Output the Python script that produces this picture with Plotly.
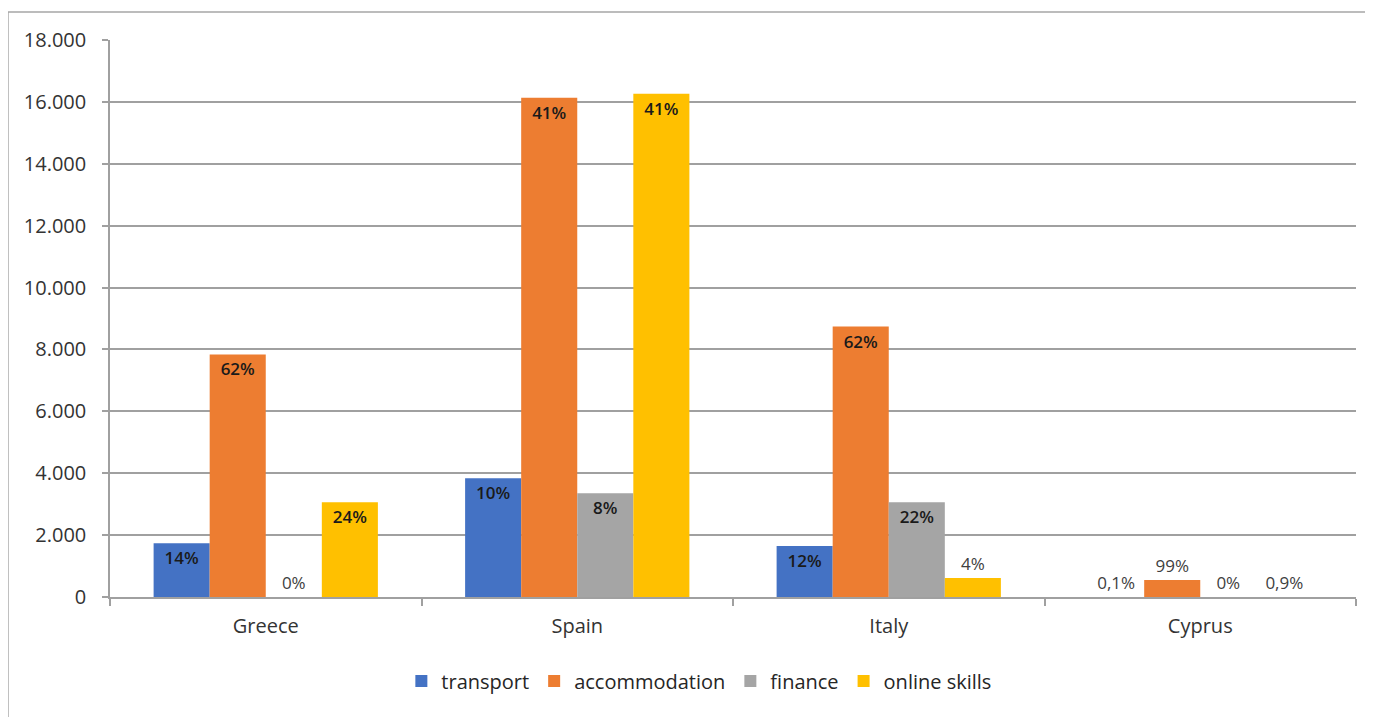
import plotly.graph_objects as go

countries = ["Greece", "Spain", "Italy", "Cyprus"]
series = ["transport", "accommodation", "finance", "online skills"]
colors = ["#4472C4", "#ED7D31", "#A5A5A5", "#FFC000"]

transport = [1740, 3840, 1650, 0]
accommodation = [7840, 16130, 8740, 550]
finance = [0, 3350, 3060, 0]
online_skills = [3060, 16260, 610, 0]

pct_transport = ["14%", "10%", "12%", "0,1%"]
pct_accommodation = ["62%", "41%", "62%", "99%"]
pct_finance = ["0%", "8%", "22%", "0%"]
pct_online = ["24%", "41%", "4%", "0,9%"]

pos_transport = ["inside", "inside", "inside", "outside"]
pos_accommodation = ["inside", "inside", "inside", "outside"]
pos_finance = ["outside", "inside", "inside", "outside"]
pos_online = ["inside", "inside", "outside", "outside"]

values = [transport, accommodation, finance, online_skills]
labels = [pct_transport, pct_accommodation, pct_finance, pct_online]
positions = [pos_transport, pos_accommodation, pos_finance, pos_online]

FONT = "Open Sans"

fig = go.Figure()
for name, col, v, t, p in zip(series, colors, values, labels, positions):
    fig.add_trace(go.Bar(
        name=name, x=countries, y=v, marker=dict(color=col, line=dict(width=0)),
        text=t, textposition=p, insidetextanchor="end",
        textfont=dict(family=FONT, size=17, color="#262626"),
        outsidetextfont=dict(family=FONT, size=17, color="#404040"),
        insidetextfont=dict(family=FONT, size=17, color="#1a1a1a", weight=600),
        cliponaxis=False, hoverinfo="x+y+name",
    ))

fig.update_layout(
    width=1365, height=709,
    margin=dict(l=102, r=17, t=32, b=120),
    paper_bgcolor="white", plot_bgcolor="white",
    barmode="group", bargap=0.28, bargroupgap=0,
    separators=",.",
    font=dict(family=FONT, size=20, color="#333333"),
    legend=dict(orientation="h", x=0.473, xanchor="center", y=-0.151, yanchor="middle",
                font=dict(family=FONT, size=20, color="#262626"), traceorder="normal",
                itemwidth=30),
    xaxis=dict(showline=True, linecolor="#a0a0a0", linewidth=1.5,
               ticks="outside", tickson="boundaries", ticklen=7, tickcolor="#a0a0a0", tickwidth=1.5,
               ticklabelstandoff=10,
               showgrid=False, tickfont=dict(family=FONT, size=20, color="#333333")),
    yaxis=dict(range=[0, 18000], dtick=2000, tickformat=",", showline=True,
               linecolor="#a0a0a0", linewidth=1.5, ticks="outside", ticklen=6,
               tickcolor="#a0a0a0", tickwidth=1.5, ticklabelstandoff=12,
               showgrid=True, gridcolor="#a0a0a0", gridwidth=1.5, zeroline=False,
               tickfont=dict(family=FONT, size=20, color="#333333")),
    shapes=[dict(type="rect", xref="paper", yref="paper", x0=-0.0819, x1=1.1,
                 y0=-0.4, y1=1.0503, line=dict(color="#a6a6a6", width=1.5),
                 fillcolor="rgba(0,0,0,0)", layer="below")],
)

fig.write_html("out.html")
